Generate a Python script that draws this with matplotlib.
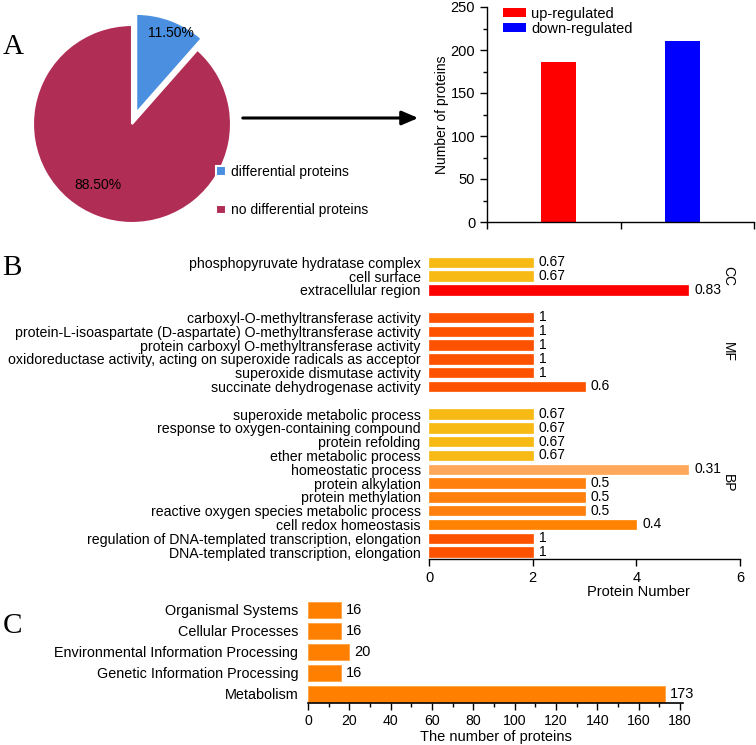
import numpy as np
import matplotlib
matplotlib.use('Agg')
import matplotlib.pyplot as plt
from matplotlib.patches import FancyArrowPatch
from matplotlib.ticker import MultipleLocator, FixedLocator

plt.rcParams['font.family'] = ['Liberation Sans', 'DejaVu Sans']

# panel A: pie
pie_labels = ['differential proteins', 'no differential proteins']
pie_values = [11.5, 88.5]
pie_colors = ['#4A8FE0', '#B02D55']

# panel A: regulation bars
reg_labels = ['up-regulated', 'down-regulated']
reg_values = [186, 211]
reg_colors = ['#FF0000', '#0000FF']

# panel B: GO terms (bottom to top), group, count, label value, colour
go_terms = [
    'DNA-templated transcription, elongation',
    'regulation of DNA-templated transcription, elongation',
    'cell redox homeostasis',
    'reactive oxygen species metabolic process',
    'protein methylation',
    'protein alkylation',
    'homeostatic process',
    'ether metabolic process',
    'protein refolding',
    'response to oxygen-containing compound',
    'superoxide metabolic process',
    'succinate dehydrogenase activity',
    'superoxide dismutase activity',
    'oxidoreductase activity, acting on superoxide radicals as acceptor',
    'protein carboxyl O-methyltransferase activity',
    'protein-L-isoaspartate (D-aspartate) O-methyltransferase activity',
    'carboxyl-O-methyltransferase activity',
    'extracellular region',
    'cell surface',
    'phosphopyruvate hydratase complex',
]
go_groups = ['BP'] * 11 + ['MF'] * 6 + ['CC'] * 3
go_counts = [2, 2, 4, 3, 3, 3, 5, 2, 2, 2, 2,
             3, 2, 2, 2, 2, 2,
             5, 2, 2]
go_values = ['1', '1', '0.4', '0.5', '0.5', '0.5', '0.31', '0.67', '0.67', '0.67', '0.67',
             '0.6', '1', '1', '1', '1', '1',
             '0.83', '0.67', '0.67']
go_colors = ['#FF5200', '#FF5200', '#FF8200', '#FF800C', '#FF800C', '#FF800C', '#FFA75A',
             '#F7BA14', '#F7BA14', '#F7BA14', '#F7BA14',
             '#FF5200', '#FF5200', '#FF5200', '#FF5200', '#FF5200', '#FF5200',
             '#FF0000', '#F7BA14', '#F7BA14']

# panel C: KEGG classes (bottom to top)
kegg_labels = ['Metabolism', 'Genetic Information Processing',
               'Environmental Information Processing', 'Cellular Processes',
               'Organismal Systems']
kegg_values = [173, 16, 20, 16, 16]

W, H = 756, 745
fig = plt.figure(figsize=(W / 100, H / 100), dpi=100)


def box(x0, y0, x1, y1):
    # pixel box (top-left origin) -> figure fraction rect
    return [x0 / W, 1 - y1 / H, (x1 - x0) / W, (y1 - y0) / H]


# ---- A: pie ----
R = 99
cx, cy = 132, 124
ax_pie = fig.add_axes(box(cx - 1.3 * R, cy - 1.3 * R, cx + 1.3 * R, cy + 1.3 * R))
wedges, _ = ax_pie.pie(pie_values, colors=pie_colors, startangle=90, counterclock=False,
                       explode=[0.12, 0], wedgeprops=dict(edgecolor='white', linewidth=1.5))
ax_pie.set_xlim(-1.3, 1.3)
ax_pie.set_ylim(-1.3, 1.3)
ax_pie.set_aspect('equal')
ax_pie.text(0.39, 0.92, '%.2f%%' % pie_values[0], ha='center', va='center', fontsize=10)
ax_pie.text(-0.34, -0.62, '%.2f%%' % pie_values[1], ha='center', va='center', fontsize=10)
ax_pie.legend(wedges, pie_labels, loc='upper left', bbox_to_anchor=(216 / W, 1 - 165 / H),
              bbox_transform=fig.transFigure, frameon=False, fontsize=10,
              handlelength=0.7, handleheight=0.7, handletextpad=0.4, labelspacing=1.75,
              borderpad=0, borderaxespad=0)

fig.add_artist(FancyArrowPatch((240 / W, 1 - 118 / H), (421 / W, 1 - 118 / H),
                               transform=fig.transFigure,
                               arrowstyle='-|>,head_length=0.7,head_width=0.3',
                               mutation_scale=14, lw=2.2, color='black'))

# ---- A: up/down bars ----
ax_reg = fig.add_axes(box(487, 7, 754, 222))
xs = np.arange(1, len(reg_values) + 1)
ax_reg.bar(xs, reg_values, width=0.28, color=reg_colors, label=reg_labels)
ax_reg.set_xlim(0.42, 2.58)
ax_reg.set_ylim(0, 250)
ax_reg.xaxis.set_major_locator(FixedLocator([0.42, 1.5, 2.58]))
ax_reg.set_xticklabels([])
ax_reg.yaxis.set_major_locator(MultipleLocator(50))
ax_reg.yaxis.set_minor_locator(MultipleLocator(25))
ax_reg.tick_params(axis='both', which='major', length=5, width=1, labelsize=10.5, direction='out')
ax_reg.tick_params(axis='y', which='minor', length=3, width=1, direction='out')
for s in ['top', 'right']:
    ax_reg.spines[s].set_visible(False)
for s in ['left', 'bottom']:
    ax_reg.spines[s].set_linewidth(1)
ax_reg.set_ylabel('Number of proteins', fontsize=10, labelpad=1)
ax_reg.legend(loc='upper left', bbox_to_anchor=(0.06, 1.0), frameon=False, fontsize=10.5,
              handlelength=1.6, handleheight=0.6, handletextpad=0.35, labelspacing=0.05,
              borderpad=0, borderaxespad=0)

# ---- B: GO bars ----
# rows with a two-row gap between groups
ypos = []
row = 0
for i, g in enumerate(go_groups):
    if i > 0 and g != go_groups[i - 1]:
        row += 1
    ypos.append(row)
    row += 1
ypos = np.array(ypos)

ax_go = fig.add_axes(box(429, 255.3, 740, 559))
ax_go.barh(ypos, go_counts, height=0.68, color=go_colors, edgecolor=go_colors, linewidth=0.5)
for y, c, v in zip(ypos, go_counts, go_values):
    ax_go.text(c + 0.12, y, v, ha='left', va='center', fontsize=10)
ax_go.set_yticks(ypos)
ax_go.set_yticklabels(go_terms, fontsize=10.15)
ax_go.tick_params(axis='y', length=0, pad=6)
ax_go.set_xlim(0, 6)
ax_go.set_ylim(-0.5, ypos[-1] + 0.5)
ax_go.xaxis.set_major_locator(MultipleLocator(2))
ax_go.tick_params(axis='x', length=5, width=1, labelsize=10.5, direction='out')
for s in ['top', 'right', 'left']:
    ax_go.spines[s].set_visible(False)
ax_go.spines['bottom'].set_linewidth(1)
for g in ['CC', 'MF', 'BP']:
    yy = ypos[[i for i, gg in enumerate(go_groups) if gg == g]]
    ax_go.text(5.77, yy.mean(), g, rotation=270, ha='center', va='center', fontsize=10)
fig.text(638 / W, 1 - 592 / H, 'Protein Number', ha='center', va='center', fontsize=10.5)

# ---- C: KEGG bars ----
ax_kg = fig.add_axes(box(308, 599.5, 683, 703))
ky = np.arange(len(kegg_values))
ax_kg.barh(ky, kegg_values, height=0.76, color='#FF8000', edgecolor='#FFA040', linewidth=0.6)
for y, v in zip(ky, kegg_values):
    ax_kg.text(v + 2.2, y, str(v), ha='left', va='center', fontsize=10.5)
ax_kg.set_yticks(ky)
ax_kg.set_yticklabels(kegg_labels, fontsize=10.4)
ax_kg.tick_params(axis='y', length=0, pad=7)
ax_kg.set_xlim(0, 181.5)
ax_kg.set_ylim(-0.43, 4.5)
ax_kg.xaxis.set_major_locator(MultipleLocator(20))
ax_kg.xaxis.set_minor_locator(MultipleLocator(10))
ax_kg.tick_params(axis='x', which='major', length=5, width=1, labelsize=10.2, direction='out', pad=3)
ax_kg.tick_params(axis='x', which='minor', length=3, width=1, direction='out')
for s in ['top', 'right', 'left']:
    ax_kg.spines[s].set_visible(False)
ax_kg.spines['bottom'].set_linewidth(1.2)
ax_kg.set_xlabel('The number of proteins', fontsize=10.5, labelpad=1)

# panel letters
for letter, x, y in [('A', 13, 47), ('B', 12, 268), ('C', 12, 626)]:
    fig.text(x / W, 1 - y / H, letter, ha='center', va='center', fontsize=21,
             family=['Liberation Serif', 'DejaVu Serif'])

fig.savefig('out.png', dpi=100)
